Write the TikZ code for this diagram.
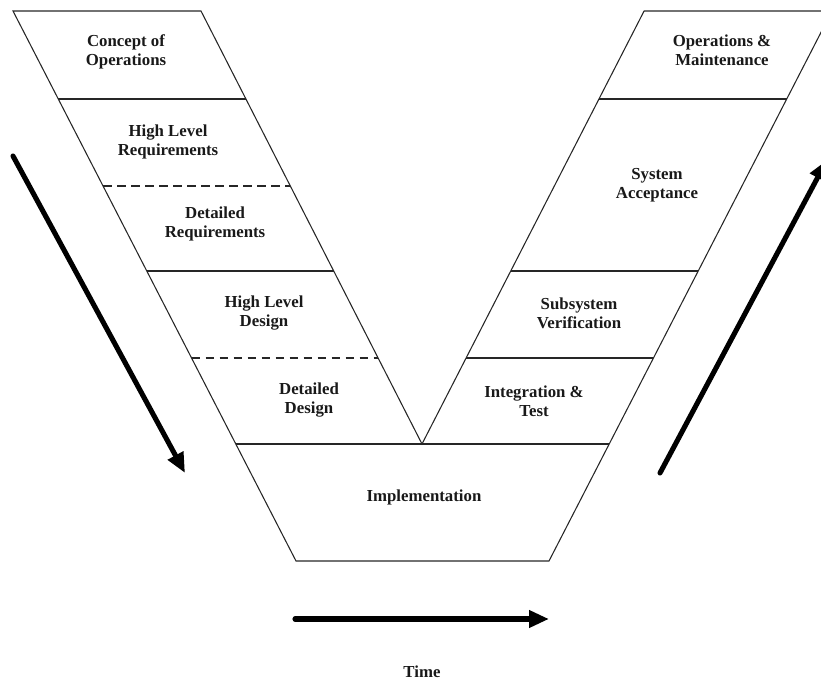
\documentclass[tikz,border=0pt]{standalone}
\usepackage{fontspec}
\setmainfont{Liberation Serif}
\usetikzlibrary{arrows.meta}
\begin{document}
\begin{tikzpicture}[x=0.75pt,y=-0.75pt,
  edge/.style={line width=0.8pt,draw=black!85},
  split/.style={edge,dash pattern=on 6.5pt off 4pt},
  flow/.style={line width=3.8pt,line cap=round,-{Triangle[length=15pt,width=12.5pt]}},
  phase/.style={font=\bfseries\fontsize{12.6}{14.4}\selectfont,align=center,text=black!90,inner sep=0pt}]
\useasboundingbox (0,0) rectangle (821,680);
\clip (0,0) rectangle (821,680);

% corners of the V outline
\coordinate (LTo) at (13,11);
\coordinate (LTi) at (201,11);
\coordinate (RTi) at (644.1,11);
\coordinate (RTo) at (832,11);
\coordinate (Vx)  at (422,444);
\coordinate (Bl)  at (296,561);
\coordinate (Br)  at (549,561);

% points where the phase boundaries meet the edges
\coordinate (L1o) at (58.3,99);   \coordinate (L1i) at (245.9,99);
\coordinate (L2o) at (103.0,186); \coordinate (L2i) at (290.3,186);
\coordinate (L3o) at (146.8,271); \coordinate (L3i) at (333.7,271);
\coordinate (L4o) at (191.5,358); \coordinate (L4i) at (378.1,358);
\coordinate (Bo)  at (235.8,444); \coordinate (Bro) at (609.2,444);
\coordinate (R1i) at (599.0,99);  \coordinate (R1o) at (786.7,99);
\coordinate (R3i) at (510.7,271); \coordinate (R3o) at (698.2,271);
\coordinate (R4i) at (466.1,358); \coordinate (R4o) at (653.4,358);

% outline
\draw[edge] (LTi) -- (LTo) -- (Bl) -- (Br) -- (RTo) -- (RTi) -- (Vx) -- cycle;

% phase boundaries
\draw[edge] (L1o) -- (L1i);
\draw[split] (L2o) -- (L2i);
\draw[edge] (L3o) -- (L3i);
\draw[split] (L4o) -- (L4i);
\draw[edge] (Bo) -- (Bro);
\draw[edge] (R1i) -- (R1o);
\draw[edge] (R3i) -- (R3o);
\draw[edge] (R4i) -- (R4o);

% phase labels
\node[phase] (conops) at (126,52)  {Concept of\\Operations};
\node[phase] (hlreq)  at (168,142) {High Level\\Requirements};
\node[phase] (dreq)   at (215,224) {Detailed\\Requirements};
\node[phase] (hldes)  at (264,313) {High Level\\Design};
\node[phase] (ddes)   at (309,400) {Detailed\\Design};
\node[phase] (impl)   at (424,497) {Implementation};
\node[phase] (integ)  at (534,401) {Integration \&\\Test};
\node[phase] (subver) at (579,313) {Subsystem\\Verification};
\node[phase] (sysacc) at (657,185) {System\\Acceptance};
\node[phase] (opsm)   at (722,50)  {Operations \&\\Maintenance};
\node[phase] (time)   at (422,672) {Time};

% direction arrows
\coordinate (dA) at (13,156);  \coordinate (dB) at (185,473);
\coordinate (uA) at (660,473); \coordinate (uB) at (827,160);
\coordinate (tA) at (295,619); \coordinate (tB) at (549,619);
\draw[flow] (dA) -- (dB);
\draw[flow] (uA) -- (uB);
\draw[flow] (tA) -- (tB);
\end{tikzpicture}
\end{document}
